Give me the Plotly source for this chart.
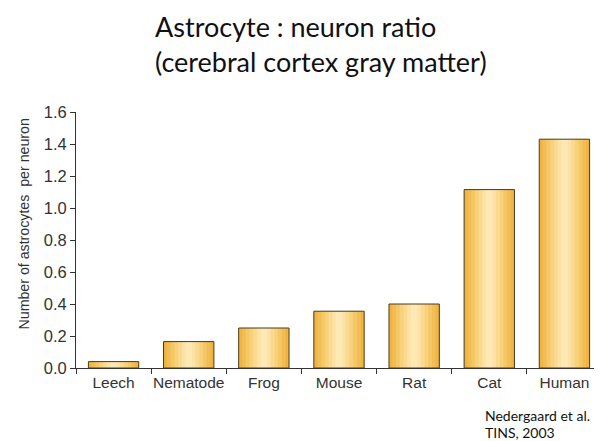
import plotly.graph_objects as go

categories = ["Leech", "Nematode", "Frog", "Mouse", "Rat", "Cat", "Human"]
ratios = [0.04, 0.165, 0.25, 0.355, 0.40, 1.115, 1.43]
y_ticks = [0.0, 0.2, 0.4, 0.6, 0.8, 1.0, 1.2, 1.4, 1.6]

fig = go.Figure()

# gradient approximation: overlay bars of decreasing width, lighter toward centre
layers = [
    (0.67, "#EFB443"),
    (0.58, "#F2BD53"),
    (0.48, "#F5C766"),
    (0.38, "#F8D17B"),
    (0.28, "#FADA90"),
    (0.18, "#FCE2A5"),
    (0.09, "#FDE8B6"),
]
for w, c in layers:
    fig.add_trace(go.Bar(x=categories, y=ratios, width=w,
                         marker=dict(color=c, line=dict(width=0)),
                         hoverinfo="skip", showlegend=False))
fig.add_trace(go.Bar(x=categories, y=ratios, width=0.67,
                     marker=dict(color="rgba(0,0,0,0)", line=dict(color="#4a3a1a", width=1)),
                     showlegend=False))

fig.update_layout(
    barmode="overlay",
    width=594, height=433,
    margin=dict(l=68, r=0, t=104, b=73, autoexpand=False),
    plot_bgcolor="white", paper_bgcolor="white",
    xaxis=dict(showline=True, linecolor="#333", linewidth=1, ticks="outside",
               tickson="boundaries", ticklen=5, tickcolor="#333", tickangle=0,
               automargin=False,
               tickfont=dict(family="Liberation Sans, Arial", size=15.5, color="#333")),
    yaxis=dict(range=[0, 1.6], tickvals=y_ticks, tickformat=".1f",
               showline=True, linecolor="#333", linewidth=1, ticks="outside",
               ticklen=5, tickcolor="#333", showgrid=False, zeroline=False,
               automargin=False,
               tickfont=dict(family="Liberation Sans, Arial", size=16.5, color="#333")),
)
fig.add_annotation(text="Number of astrocytes  per neuron", textangle=-90,
                   xref="paper", yref="paper", x=-0.0998, y=0.5625,
                   xanchor="center", yanchor="middle", showarrow=False,
                   font=dict(family="Liberation Sans, Arial", size=14.2, color="#333"))
fig.add_annotation(text="Astrocyte : neuron ratio",
                   xref="paper", yref="paper", x=0.418, y=1.334, xanchor="center",
                   yanchor="middle", showarrow=False, borderpad=0,
                   font=dict(family="Lato, Open Sans, sans-serif", size=27, color="#111"))
fig.add_annotation(text="(cerebral cortex gray matter)",
                   xref="paper", yref="paper", x=0.466, y=1.197, xanchor="center",
                   yanchor="middle", showarrow=False, borderpad=0,
                   font=dict(family="Lato, Open Sans, sans-serif", size=27, color="#111"))
fig.add_annotation(text="Nedergaard et al.", xref="paper", yref="paper",
                   x=0.7738, y=-0.1836, xanchor="left", yanchor="middle",
                   showarrow=False,
                   font=dict(family="Lato, Open Sans, sans-serif", size=14, color="#111"))
fig.add_annotation(text="TINS, 2003", xref="paper", yref="paper",
                   x=0.7738, y=-0.252, xanchor="left", yanchor="middle",
                   showarrow=False,
                   font=dict(family="Lato, Open Sans, sans-serif", size=14, color="#111"))
fig.write_html("out.html")
